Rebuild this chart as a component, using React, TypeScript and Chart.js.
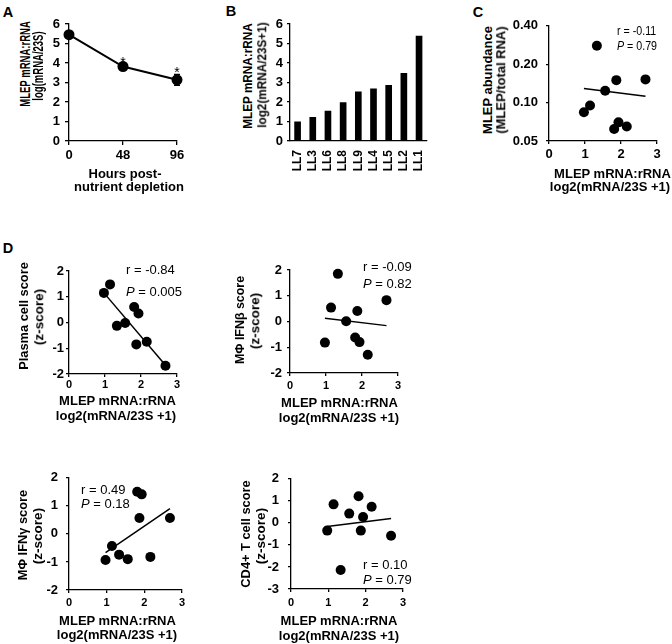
import React, { useEffect, useRef } from "react";
import { Chart, registerables } from "chart.js";
Chart.register(...registerables);

const FONT = "'Liberation Sans', Arial, Helvetica, sans-serif";
Chart.defaults.font.family = FONT;
Chart.defaults.color = "#000";

// ---------------- data ----------------
// Panel A
const hoursA = [0, 48, 96];
const meanA = [5.45, 3.82, 3.14];
const errA = [0.12, 0.12, 0.28];
const sigA = ["", "*", "*"];
const yTicksA = [0, 1, 2, 3, 4, 5, 6];

// Panel B
const catsB = ["LL7", "LL3", "LL6", "LL8", "LL9", "LL4", "LL5", "LL2", "LL1"];
const valsB = [0.98, 1.22, 1.53, 1.97, 2.52, 2.67, 2.85, 3.47, 5.38];

// shared x for C and D (MLEP mRNA:rRNA, log2(mRNA/23S +1))
const mlepX = [0.97, 1.14, 1.33, 1.56, 1.81, 1.87, 1.93, 2.16, 2.68];
const fitX = [0.97, 2.68];

// Panel C
const abundanceC = [0.084, 0.095, 0.279, 0.124, 0.062, 0.15, 0.07, 0.065, 0.152];
const fitC = [0.129, 0.112];
const ticksC = [0.05, 0.1, 0.2, 0.4];

// Panel D
const plasmaD = [1.15, 1.48, -0.13, -0.02, 0.6, -0.85, 0.35, -0.75, -1.68];
const fitPlasma = [1.15, -1.66];
const ifnbD = [-0.82, 0.54, 1.85, 0.01, -0.62, 0.41, -0.8, -1.29, 0.83];
const fitIfnb = [0.13, -0.16];
const ifngD = [-0.93, -0.43, -0.74, -0.9, 1.5, 0.57, 1.41, -0.82, 0.57];
const fitIfng = [-0.67, 0.9];
const cd4D = [-0.35, 0.84, -2.14, 0.42, 1.21, -0.35, 0.27, 0.73, -0.58];
const fitCd4 = [-0.16, 0.2];

// ---------------- helpers ----------------
function axis(size: number, pad: number, tickLen: number, drawTicks = true) {
  return {
    border: { display: true, color: "#000", width: 1.3 },
    grid: { display: true, drawOnChartArea: false, drawTicks, tickLength: tickLen, color: "#000", lineWidth: 1.3 },
    ticks: { color: "#000", font: { size, weight: "bold", family: FONT }, padding: pad, autoSkip: false, maxRotation: 0, minRotation: 0 } as any,
  };
}

const baseOpts = (pt: number, pr: number) => ({
  responsive: false,
  animation: false,
  devicePixelRatio: 1,
  layout: { padding: { left: 0, top: pt, right: pr, bottom: 0 } },
  plugins: { legend: { display: false }, tooltip: { enabled: false } },
});

const errorBarPlugin = {
  id: "errA",
  beforeDatasetsDraw(chart: any) {
    const { ctx, scales } = chart;
    const x = scales.x, y = scales.y;
    ctx.save();
    ctx.strokeStyle = "#000";
    ctx.lineWidth = 1.3;
    ctx.fillStyle = "#000";
    hoursA.forEach((h, i) => {
      const px = x.getPixelForValue(h);
      const top = y.getPixelForValue(meanA[i] + errA[i]);
      const bot = y.getPixelForValue(meanA[i] - errA[i]);
      ctx.beginPath();
      ctx.moveTo(px, top); ctx.lineTo(px, bot);
      ctx.moveTo(px - 3, top); ctx.lineTo(px + 3, top);
      ctx.moveTo(px - 3, bot); ctx.lineTo(px + 3, bot);
      ctx.stroke();
      if (sigA[i]) {
        ctx.font = `14px ${FONT}`;
        ctx.textAlign = "center";
        ctx.textBaseline = "alphabetic";
        ctx.fillText(sigA[i], px, top + 2.5);
      }
    });
    ctx.restore();
  },
};

function configA() {
  const yA: any = { ...axis(13, 5, 4), type: "linear", min: 0, max: 6, afterFit: (s: any) => { s.width = 29; } };
  yA.afterBuildTicks = (s: any) => { s.ticks = yTicksA.map((v) => ({ value: v })); };
  const xA: any = { ...axis(13, 3, 4), type: "linear", min: 0, max: 96, afterFit: (s: any) => { s.height = 34; } };
  xA.afterBuildTicks = (s: any) => { s.ticks = hoursA.map((v) => ({ value: v })); };
  return {
    type: "line",
    data: {
      datasets: [{
        data: hoursA.map((h, i) => ({ x: h, y: meanA[i] })),
        borderColor: "#000", borderWidth: 2, backgroundColor: "#000",
        pointRadius: 5.5, pointBackgroundColor: "#000", pointBorderWidth: 0, clip: false,
      }],
    },
    options: { ...baseOpts(14, 13), scales: { x: xA, y: yA } },
    plugins: [errorBarPlugin],
  };
}

function configB() {
  const yB: any = { ...axis(13, 4, 3), type: "linear", min: 0, max: 6, afterFit: (s: any) => { s.width = 32; } };
  yB.ticks.stepSize = 1;
  const xB: any = { ...axis(12, 9, 0, false), type: "category", afterFit: (s: any) => { s.height = 44; } };
  xB.ticks.minRotation = 90;
  xB.ticks.maxRotation = 90;
  return {
    type: "bar",
    data: { labels: catsB, datasets: [{ data: valsB, backgroundColor: "#000", barThickness: 6 }] },
    options: { ...baseOpts(14, 10), scales: { x: xB, y: yB } },
  };
}

function scatterCfg(p: any) {
  const yS: any = { ...axis(p.ySize, p.yPad, 3), type: p.log ? "logarithmic" : "linear", min: p.yMin, max: p.yMax, afterFit: (s: any) => { s.width = p.yW; } };
  if (p.log) {
    yS.afterBuildTicks = (s: any) => { s.ticks = ticksC.map((v) => ({ value: v })); };
    yS.ticks.callback = (v: any) => Number(v).toFixed(2);
  } else {
    yS.ticks.stepSize = 1;
  }
  const xS: any = { ...axis(p.xSize, p.xPad, 3), type: "linear", min: 0, max: 3, afterFit: (s: any) => { s.height = p.xH; } };
  xS.ticks.stepSize = 1;
  return {
    type: "scatter",
    data: {
      datasets: [
        { data: mlepX.map((x, i) => ({ x, y: p.ys[i] })), pointRadius: 5, pointBackgroundColor: "#000", pointBorderWidth: 0, backgroundColor: "#000", clip: false },
        { data: fitX.map((x, i) => ({ x, y: p.fit[i] })), showLine: true, pointRadius: 0, borderColor: "#000", borderWidth: 1.5, clip: false },
      ],
    },
    options: { ...baseOpts(p.pt, p.pr), scales: { x: xS, y: yS } },
  };
}

function ChartBox({ x, y, w, h, make }: any) {
  const ref = useRef<HTMLCanvasElement>(null);
  useEffect(() => {
    const chart = new Chart(ref.current as HTMLCanvasElement, make() as any);
    return () => chart.destroy();
  }, []);
  return <canvas ref={ref} width={w} height={h} style={{ position: "absolute", left: x, top: y, width: w, height: h }} />;
}

function HText({ x, y, size = 13, bold = true, align = "center", sx = 1, children }: any) {
  const tx = align === "center" ? "-50%" : "0";
  return (
    <div style={{ position: "absolute", left: x, top: y, transformOrigin: "0 0", transform: `scale(${sx},1) translate(${tx},-50%)`, font: `${bold ? "bold " : ""}${size}px ${FONT}`, lineHeight: 1, whiteSpace: "nowrap", color: "#000" }}>
      {children}
    </div>
  );
}

function VText({ x, y, size = 13.5, sx = 1, children }: any) {
  return (
    <div style={{ position: "absolute", left: x, top: y, transformOrigin: "0 0", transform: `rotate(-90deg) scale(${sx},1) translate(-50%,-50%)`, font: `bold ${size}px ${FONT}`, lineHeight: 1, whiteSpace: "nowrap", color: "#000" }}>
      {children}
    </div>
  );
}

function Stat({ x, y, r, p, sx = 1 }: any) {
  return (
    <>
      <HText x={x} y={y} size={13} bold={false} align="left" sx={sx}>r = {r}</HText>
      <HText x={x} y={y + (p.dy || 15)} size={13} bold={false} align="left" sx={sx}><i>P</i> = {p.v}</HText>
    </>
  );
}

export default function App() {
  return (
    <div style={{ position: "absolute", left: 0, top: 0, width: 672, height: 644, background: "#fff", overflow: "hidden" }}>
      {/* Panel letters */}
      <HText x={8} y={12} size={14.5}>A</HText>
      <HText x={231} y={11} size={14.5}>B</HText>
      <HText x={478} y={12} size={14.5}>C</HText>
      <HText x={8} y={248} size={14.5}>D</HText>

      {/* Panel A */}
      <ChartBox x={40} y={10} w={150} h={165} make={configA} />
      <VText x={24.5} y={64} size={14} sx={0.68}>MLEP mRNA:rRNA</VText>
      <VText x={37.5} y={66} size={14} sx={0.68}>log(mRNA/23S)</VText>
      <HText x={125} y={173}>Hours post-</HText>
      <HText x={129} y={185.5}>nutrient depletion</HText>

      {/* Panel B */}
      <ChartBox x={258} y={10} w={185} h={175} make={configB} />
      <VText x={248} y={75.5} sx={0.87}>MLEP mRNA:rRNA</VText>
      <VText x={261.5} y={75} sx={0.87}>log2(mRNA/23S+1)</VText>

      {/* Panel C */}
      <ChartBox x={505} y={10} w={165} h={160}
        make={() => scatterCfg({ ys: abundanceC, fit: fitC, log: true, yMin: 0.05, yMax: 0.4, yW: 44, xH: 29, pt: 14, pr: 13, yPad: 8, xPad: 3, ySize: 13, xSize: 13 })} />
      <VText x={488} y={80} sx={0.96}>MLEP abundance</VText>
      <VText x={500.5} y={80} sx={0.96}>(MLEP/total RNA)</VText>
      <HText x={612.5} y={173}>MLEP mRNA:rRNA</HText>
      <HText x={610} y={185.5}>log2(mRNA/23S +1)</HText>
      <Stat x={617} y={30} r="-0.11" p={{ v: "0.79" }} sx={0.82} />

      {/* Panel D1 */}
      <ChartBox x={40} y={255} w={150} h={140}
        make={() => scatterCfg({ ys: plasmaD, fit: fitPlasma, yMin: -2, yMax: 2, yW: 29, xH: 21, pt: 16, pr: 13, yPad: 2, xPad: 1, ySize: 13, xSize: 11 })} />
      <VText x={24} y={316} sx={0.95}>Plasma cell score</VText>
      <VText x={39} y={317}>(z-score)</VText>
      <HText x={117.5} y={400}>MLEP mRNA:rRNA</HText>
      <HText x={116} y={415}>log2(mRNA/23S +1)</HText>
      <Stat x={126} y={269} r="-0.84" p={{ v: "0.005", dy: 22 }} />

      {/* Panel D2 */}
      <ChartBox x={258} y={255} w={150} h={140}
        make={() => scatterCfg({ ys: ifnbD, fit: fitIfnb, yMin: -2, yMax: 2, yW: 32, xH: 22, pt: 15, pr: 10, yPad: 5, xPad: 3, ySize: 13, xSize: 11 })} />
      <VText x={240} y={320} sx={0.92}>MΦ IFNβ score</VText>
      <VText x={255} y={321}>(z-score)</VText>
      <HText x={339.5} y={402}>MLEP mRNA:rRNA</HText>
      <HText x={339} y={417}>log2(mRNA/23S +1)</HText>
      <Stat x={363} y={266} r="-0.09" p={{ v: "0.82", dy: 16.5 }} />

      {/* Panel D3 */}
      <ChartBox x={40} y={462} w={155} h={150}
        make={() => scatterCfg({ ys: ifngD, fit: fitIfng, yMin: -2, yMax: 2, yW: 29, xH: 22, pt: 15, pr: 13, yPad: 8, xPad: 3, ySize: 13, xSize: 11 })} />
      <VText x={23} y={535} sx={0.95}>MΦ IFNγ score</VText>
      <VText x={38} y={536}>(z-score)</VText>
      <HText x={117.5} y={620}>MLEP mRNA:rRNA</HText>
      <HText x={117} y={634}>log2(mRNA/23S +1)</HText>
      <Stat x={81} y={488.5} r="0.49" p={{ v: "0.18", dy: 14.5 }} />

      {/* Panel D4 */}
      <ChartBox x={258} y={462} w={155} h={150}
        make={() => scatterCfg({ ys: cd4D, fit: fitCd4, yMin: -3, yMax: 2, yW: 33, xH: 23, pt: 15, pr: 10, yPad: 9, xPad: 4, ySize: 13, xSize: 11 })} />
      <VText x={246} y={533.5} sx={0.95}>CD4+ T cell score</VText>
      <VText x={261} y={536}>(z-score)</VText>
      <HText x={339} y={620}>MLEP mRNA:rRNA</HText>
      <HText x={339} y={635}>log2(mRNA/23S +1)</HText>
      <Stat x={363} y={564} r="0.10" p={{ v: "0.79", dy: 14.5 }} />
    </div>
  );
}
